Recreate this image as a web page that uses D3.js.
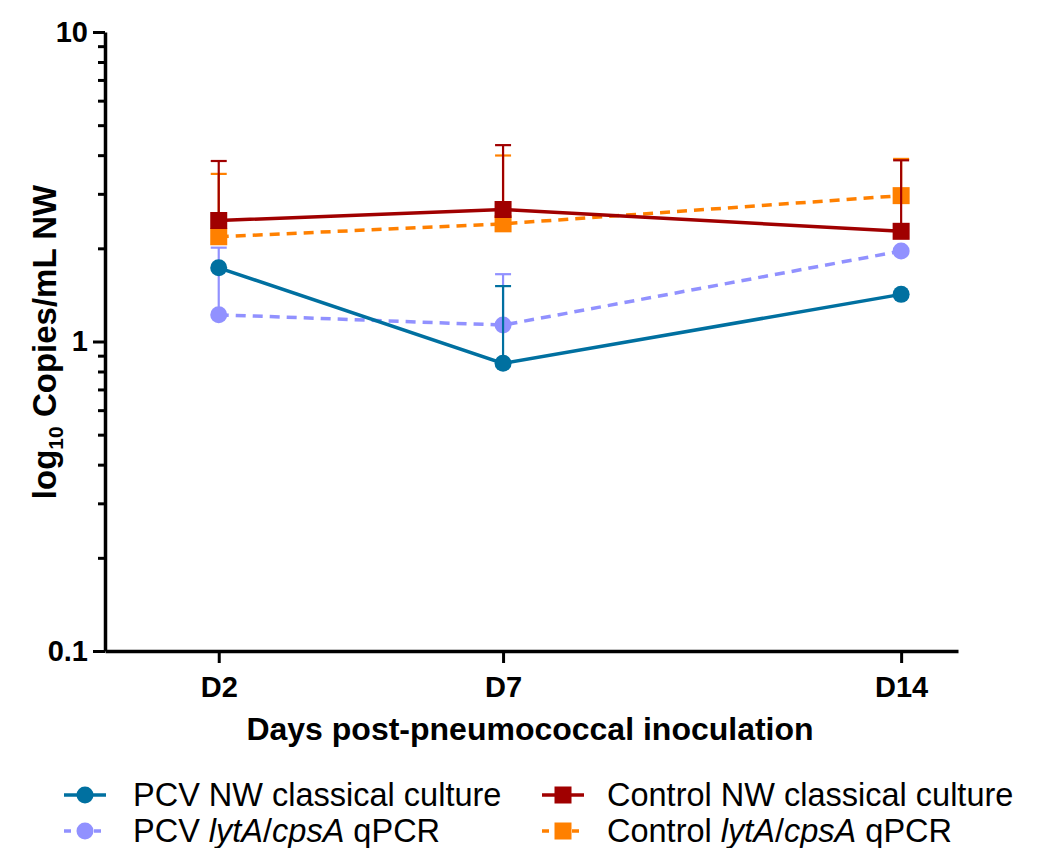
<!DOCTYPE html>
<html>
<head>
<meta charset="utf-8">
<script src="https://cdn.jsdelivr.net/npm/d3@7"></script>
<style>
  body { margin: 0; background: #fff; }
  text { font-family: "Liberation Sans", Arial, sans-serif; }
</style>
</head>
<body>
<div id="chart"></div>
<script>
// days after inoculation and their labels
var days = [2, 7, 14],
    dayLabels = ["D2", "D7", "D14"];

// means and top of the (upper-only) error bars, null = no bar drawn
var pcvCulture = [1.73, 0.85, 1.42],
    pcvCultureTop = [null, 1.51, null],
    pcvQpcr = [1.22, 1.13, 1.96],
    pcvQpcrTop = [2.01, 1.65, null],
    ctrlCulture = [2.46, 2.67, 2.27],
    ctrlCultureTop = [3.83, 4.31, 3.85],
    ctrlQpcr = [2.18, 2.40, 2.96],
    ctrlQpcrTop = [3.48, 3.99, 3.89];

var yTicks = [0.1, 1, 10];

var width = 1043, height = 848,
    mLeft = 105, mRight = 958, mTop = 32, mBottom = 651;

var series = [
    {values: pcvQpcr, tops: pcvQpcrTop, color: "#9191ff", dash: "10,7", shape: "circle"},
    {values: ctrlQpcr, tops: ctrlQpcrTop, color: "#ff8000", dash: "10,7", shape: "square"},
    {values: pcvCulture, tops: pcvCultureTop, color: "#0070a0", dash: null, shape: "circle"},
    {values: ctrlCulture, tops: ctrlCultureTop, color: "#a00000", dash: null, shape: "square"}
];

var x = d3.scaleLinear().domain([0, 15]).range([mLeft, mRight]),
    y = d3.scaleLog().domain([0.1, 10]).range([mBottom, mTop]);

var svg = d3.select("#chart").append("svg")
    .attr("width", width)
    .attr("height", height);

// y axis: minor ticks
var minor = [];
[0.1, 1].forEach(b => { for (var k = 2; k <= 9; k++) minor.push(b * k); });
svg.append("g")
    .attr("transform", `translate(${mLeft},0)`)
    .call(d3.axisLeft(y).tickValues(minor).tickSize(7).tickFormat(""))
    .call(g => g.select(".domain").remove())
    .selectAll("line").attr("stroke", "#000").attr("stroke-width", 3);

var yAxis = svg.append("g")
    .attr("transform", `translate(${mLeft},0)`)
    .call(d3.axisLeft(y).tickValues(yTicks).tickSize(12).tickSizeOuter(0).tickPadding(5)
        .tickFormat(d => d >= 1 ? d3.format("d")(d) : String(d)));
yAxis.select(".domain").attr("stroke", "#000").attr("stroke-width", 3.5);
yAxis.selectAll("line").attr("stroke", "#000").attr("stroke-width", 3);
yAxis.selectAll("text").attr("font-size", 29).attr("font-weight", "bold").attr("fill", "#000");

// x axis
var xAxis = svg.append("g")
    .attr("transform", `translate(0,${mBottom})`)
    .call(d3.axisBottom(x).tickValues(days).tickSize(12).tickSizeOuter(0).tickPadding(0)
        .tickFormat((d, i) => dayLabels[i]));
xAxis.select(".domain").attr("stroke", "#000").attr("stroke-width", 3.5);
xAxis.selectAll("line").attr("stroke", "#000").attr("stroke-width", 3);
xAxis.selectAll("text").attr("font-size", 29).attr("font-weight", "bold").attr("fill", "#000")
    .attr("dy", null).attr("y", 46);

// axis titles
svg.append("text")
    .attr("x", 530).attr("y", 740)
    .attr("text-anchor", "middle")
    .attr("font-size", 32).attr("font-weight", "bold")
    .text("Days post-pneumococcal inoculation");

var yt = svg.append("text")
    .attr("transform", `translate(56,342) rotate(-90)`)
    .attr("text-anchor", "middle")
    .attr("font-size", 33).attr("font-weight", "bold");
yt.append("tspan").text("log");
yt.append("tspan").attr("font-size", 21).attr("dy", 7).text("10");
yt.append("tspan").attr("dy", -7).text(" Copies/mL NW");

var line = d3.line().x((d, i) => x(days[i])).y(d => y(d));

function marker(g, shape, color, cx, cy) {
    if (shape === "circle")
        g.append("circle").attr("cx", cx).attr("cy", cy).attr("r", 8.5).attr("fill", color);
    else
        g.append("rect").attr("x", cx - 8.5).attr("y", cy - 8.5).attr("width", 17).attr("height", 17).attr("fill", color);
}

series.forEach(s => {
    var g = svg.append("g");
    // error bars
    s.tops.forEach((t, i) => {
        if (t == null) return;
        var cx = x(days[i]);
        g.append("line").attr("x1", cx).attr("x2", cx)
            .attr("y1", y(s.values[i])).attr("y2", y(t))
            .attr("stroke", s.color).attr("stroke-width", 2.2);
        g.append("line").attr("x1", cx - 8).attr("x2", cx + 8)
            .attr("y1", y(t)).attr("y2", y(t))
            .attr("stroke", s.color).attr("stroke-width", 2.2);
    });
    g.append("path")
        .attr("d", line(s.values))
        .attr("fill", "none")
        .attr("stroke", s.color)
        .attr("stroke-width", 3.5)
        .attr("stroke-dasharray", s.dash);
    s.values.forEach((v, i) => marker(g, s.shape, s.color, x(days[i]), y(v)));
});

// legend
var legendItems = [
    {s: series[2], label: [["PCV NW classical culture", false]], lx: 64, tx: 133, ly: 795},
    {s: series[3], label: [["Control NW classical culture", false]], lx: 542, tx: 607, ly: 795},
    {s: series[0], label: [["PCV ", false], ["lytA", true], ["/", false], ["cpsA", true], [" qPCR", false]], lx: 64, tx: 133, ly: 831},
    {s: series[1], label: [["Control ", false], ["lytA", true], ["/", false], ["cpsA", true], [" qPCR", false]], lx: 542, tx: 607, ly: 831}
];
legendItems.forEach(it => {
    var g = svg.append("g");
    g.append("line").attr("x1", it.lx).attr("x2", it.lx + 42)
        .attr("y1", it.ly).attr("y2", it.ly)
        .attr("stroke", it.s.color).attr("stroke-width", 3.5)
        .attr("stroke-dasharray", it.s.dash ? "7,8" : null);
    marker(g, it.s.shape, it.s.color, it.lx + 21, it.ly);
    var t = g.append("text").attr("x", it.tx).attr("y", it.ly + 11)
        .attr("font-size", 32.5);
    it.label.forEach(p => t.append("tspan").attr("font-style", p[1] ? "italic" : null).text(p[0]));
});
</script>
</body>
</html>
